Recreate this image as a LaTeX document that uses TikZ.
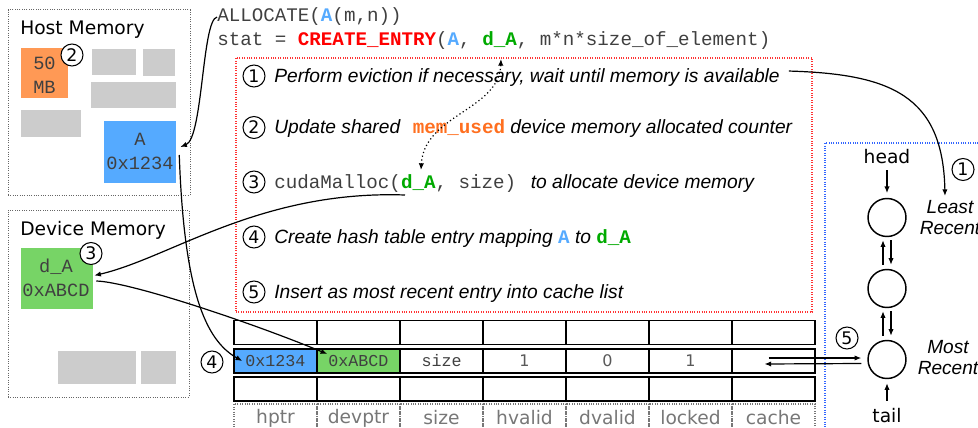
\documentclass[tikz,border=0pt]{standalone}
\usepackage{fontspec}
\setmainfont{DejaVu Sans}
\newfontfamily\arialfont{Liberation Sans}
\newfontfamily\codefont{Liberation Mono}
\usetikzlibrary{arrows.meta,calc}

\definecolor{hostorange}{HTML}{FF9955}
\definecolor{hostblue}{HTML}{55AAFF}
\definecolor{devgreen}{HTML}{77D466}
\definecolor{blockgray}{HTML}{CCCCCC}
\definecolor{codegray}{HTML}{404040}
\definecolor{codeblue}{HTML}{55AAFF}
\definecolor{codegreen}{HTML}{00AA00}
\definecolor{codered}{HTML}{FF0000}
\definecolor{codeorange}{HTML}{FF6F1F}
\definecolor{labelgray}{HTML}{777777}
\definecolor{framered}{HTML}{FF3333}
\definecolor{frameblue}{HTML}{3366FF}

\newcommand{\codeA}{{\codefont\upshape\bfseries\color{codeblue}A}}
\newcommand{\codedA}{{\codefont\upshape\bfseries\color{codegreen}d\_A}}
\newcommand{\codeplain}[1]{{\codefont\upshape\color{codegray}#1}}

\tikzset{
  boxsize/.style 2 args={minimum width=#1*0.75pt, minimum height=#2*0.75pt},
  blockfill/.style={fill=#1, draw=none, inner sep=0pt},
  memframe/.style={draw=black!60, densely dotted, line width=0.75pt, inner sep=0pt},
  titletext/.style={anchor=base west, inner sep=0pt, font=\fontsize{14}{16}\selectfont},
  blocktext/.style={align=center, text=codegray, font=\codefont\fontsize{14}{18}\selectfont},
  stepnum/.style={circle, draw, line width=0.8pt, fill=white, inner sep=0pt,
    minimum size=22*0.75pt, font=\fontsize{13}{13}\selectfont},
  itemtext/.style={anchor=base west, inner sep=0pt, font=\arialfont\itshape\fontsize{14.4}{16}\selectfont},
  sidetext/.style={align=center, inner sep=0pt, font=\arialfont\itshape\fontsize{14.3}{15.75}\selectfont},
  codetext/.style={anchor=base west, inner sep=0pt, text=codegray, font=\codefont\fontsize{14.4}{16}\selectfont},
  cell/.style={draw, line width=1.1pt, inner sep=0pt, boxsize={83}{24},
    font=\codefont\fontsize{12.5}{14}\selectfont, text=codegray},
  numcell/.style={cell, font=\fontsize{12}{14}\selectfont, text=black!65},
  headcell/.style={draw=labelgray, densely dotted, line width=0.8pt, inner sep=0pt,
    boxsize={83}{28}, text=labelgray, font=\fontsize{14}{16}\selectfont},
  conn/.style={line width=0.9pt, -{Latex[length=5pt,width=4pt]}},
  dotconn/.style={line width=0.9pt, dotted, {Latex[length=5pt,width=4pt]}-{Latex[length=5pt,width=4pt]}},
  listnode/.style={circle, draw, line width=1.1pt, minimum size=38*0.75pt, inner sep=0pt},
  plaintext/.style={inner sep=0pt, font=\fontsize{14}{16}\selectfont},
}

\begin{document}
\begin{tikzpicture}[x=0.75pt,y=-0.75pt]
\useasboundingbox (0,0) rectangle (978,428);

% ---------- Host memory ----------
\node[memframe, boxsize={182}{185}] (hostmem) at (99,102.5) {};
\node[titletext] (hosttitle) at (20,35) {Host Memory};
\node[blockfill=hostorange, boxsize={47}{50}] (hostfifty) at (44.5,73) {};
\node[blocktext] (hostfiftytext) at (44.5,75.5) {50\\MB};
\node[stepnum] (num2) at (72,55) {2};
\node[blockfill=blockgray, boxsize={44}{26}] (hg1) at (114,62) {};
\node[blockfill=blockgray, boxsize={32}{27}] (hg2) at (159,62.5) {};
\node[blockfill=blockgray, boxsize={85}{26}] (hg3) at (133.5,95) {};
\node[blockfill=blockgray, boxsize={60}{27}] (hg4) at (51,123.5) {};
\node[blockfill=hostblue, boxsize={72}{62}] (hostA) at (140,152) {};
\node[blocktext] (hostAtext) at (140,151) {A\\0x1234};

% ---------- Device memory ----------
\node[memframe, boxsize={181}{187}] (devmem) at (98.5,303.5) {};
\node[titletext] (devtitle) at (20,235.5) {Device Memory};
\node[blockfill=devgreen, boxsize={72}{61}] (devA) at (57,278.5) {};
\node[blocktext] (devAtext) at (56,278) {d\_A\\0xABCD};
\node[stepnum] (num3) at (91,253.5) {3};
\node[blockfill=blockgray, boxsize={78}{33}] (dg1) at (97,367.5) {};
\node[blockfill=blockgray, boxsize={35}{33}] (dg2) at (158.5,367.5) {};

% ---------- code lines ----------
\node[codetext] (alloc) at (217,22) {ALLOCATE(\codeA(m,n))};
\node[codetext] (stat) at (217,46) {stat = {\bfseries\color{codered}CREATE\_ENTRY}(\codeA, \codedA, m*n*size\_of\_element)};

% ---------- steps box ----------
\node[draw=framered, densely dotted, line width=0.8pt, boxsize={576}{254}, inner sep=0pt] (steps) at (524,185) {};
\node[stepnum] (s1) at (254,76) {1};
\node[stepnum] (s2) at (254,127.5) {2};
\node[stepnum] (s3) at (254,182) {3};
\node[stepnum] (s4) at (254,237) {4};
\node[stepnum] (s5) at (254,292) {5};
\node[itemtext] (t1) at (274,83) {Perform eviction if necessary, wait until memory is available};
\node[itemtext] (t2) at (274,133.5) {Update shared\hspace{9.5pt}{\codefont\upshape\bfseries\color{codeorange}mem\_used} device memory allocated counter};
\node[itemtext] (t3) at (274,188.5) {\codeplain{cudaMalloc(}\codedA\codeplain{, size)}\hspace{11pt}to allocate device memory};
\node[itemtext] (t4) at (274,243.5) {Create hash table entry mapping \codeA{} to \codedA};
\node[itemtext] (t5) at (274,298) {Insert as most recent entry into cache list};

% ---------- table ----------
\foreach \i in {0,...,6} {
  \node[cell] (ra\i) at ({275.5+83*\i},332.5) {};
  \node[cell] (rc\i) at ({275.5+83*\i},389) {};
}
\node[cell, fill=hostblue] (hptr) at (275.5,361) {0x1234};
\node[cell, fill=devgreen] (devptr) at (358.5,361) {0xABCD};
\node[cell] (sizecell) at (441.5,361) {size};
\node[numcell] (hvalid) at (524.5,361) {1};
\node[numcell] (dvalid) at (607.5,361) {0};
\node[numcell] (locked) at (690.5,361) {1};
\node[cell] (cache) at (773.5,361) {};
\node[headcell] (h0) at (275.5,418) {hptr};
\node[headcell] (h1) at (358.5,418) {devptr};
\node[headcell] (h2) at (441.5,418) {size};
\node[headcell] (h3) at (524.5,418) {hvalid};
\node[headcell] (h4) at (607.5,418) {dvalid};
\node[headcell] (h5) at (690.5,418) {locked};
\node[headcell] (h6) at (773.5,418) {cache};
\node[stepnum] (num4) at (212,362) {4};

% ---------- cache list ----------
\draw[frameblue, densely dotted, line width=0.8pt] (1000,143) -- (825,143) -- (825,440);
\node[plaintext] (head) at (887,157) {head};
\node[listnode] (c1) at (887,217.5) {};
\node[listnode] (c2) at (887,288.5) {};
\node[listnode] (c3) at (887,359.5) {};
\node[plaintext] (tail) at (887,416) {tail};
\node[stepnum] (num1) at (963,169.5) {1};
\node[stepnum] (num5) at (847,338) {5};
\node[sidetext] (least) at (950,217.5) {Least\\Recent};
\node[sidetext] (most) at (948,357.5) {Most\\Recent};

\draw[conn, shorten <=4.5pt, shorten >=3.5pt] (head.south) -- (c1.north);
\draw[conn] ($(c2.north)+(-4,-4)$) -- ($(c1.south)+(-4,3)$);
\draw[conn] ($(c1.south)+(4,3)$) -- ($(c2.north)+(4,-4)$);
\draw[conn] ($(c3.north)+(-4,-4)$) -- ($(c2.south)+(-4,3)$);
\draw[conn] ($(c2.south)+(4,3)$) -- ($(c3.north)+(4,-4)$);
\draw[conn, shorten <=6pt, shorten >=3pt] (tail.north) -- (c3.south);

\draw[conn] ($(cache.center)+(-5,-3)$) -- ($(c3.west)+(-6,-1.5)$);
\draw[conn] ($(c3.west)+(-6,4)$) -- ($(cache.center)+(-9,3)$);

% ---------- connectors ----------
\coordinate (mallocstart) at (405,195);
\coordinate (statdA) at (501,59);
\coordinate (mallocdA) at (421,170);
\coordinate (leasttip) at (945,196);

\draw[conn] (alloc.west) .. controls (202,20) and (203,138) .. ($(hostA.east)+(4,-5)$);
\draw[conn] ($(hostA.east)+(3,3)$) .. controls (184,290) and (205,340) .. ($(hptr.west)+(9,0)$);
\draw[conn] (mallocstart) .. controls (260,190) and (170,258) .. ($(devA.east)+(1,-3)$);
\draw[conn] ($(devA.east)+(3,2.5)$) .. controls (130,282) and (250,322) .. ($(devptr.west)+(11,-7)$);
\draw[dotconn] (statdA) .. controls (499,110) and (424,115) .. (mallocdA);
\draw[conn] ($(t1.east)+(9,-7)$) .. controls (890,74) and (943,95) .. (leasttip);
\end{tikzpicture}
\end{document}
